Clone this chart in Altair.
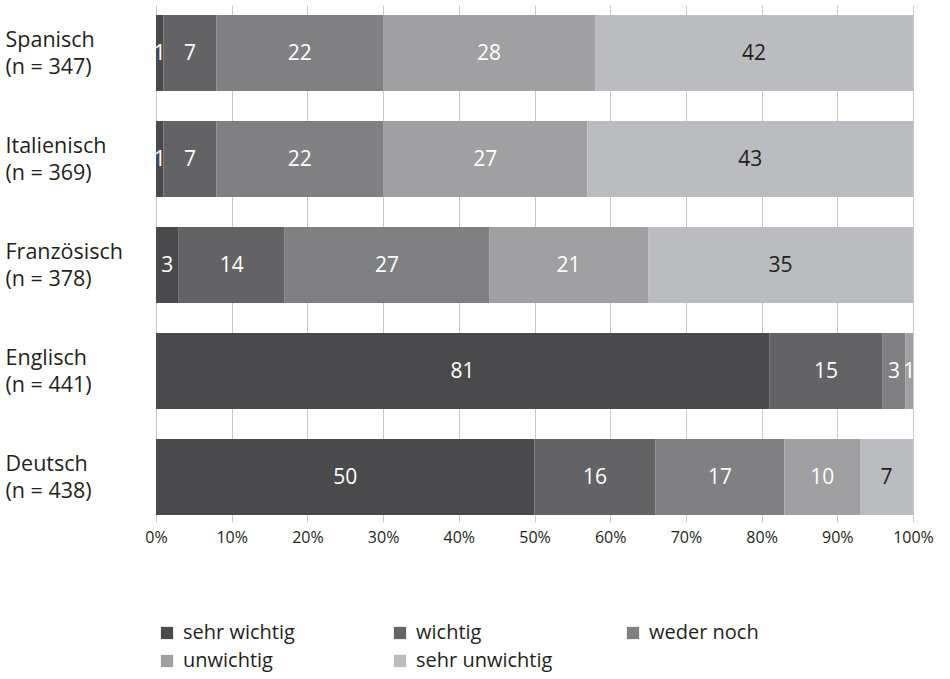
import altair as alt
import pandas as pd

languages = ["Spanisch", "Italienisch", "Französisch", "Englisch", "Deutsch"]
sample_sizes = [347, 369, 378, 441, 438]
categories = ["sehr wichtig", "wichtig", "weder noch", "unwichtig", "sehr unwichtig"]
colors = ["#4a4a4c", "#636366", "#808083", "#a0a0a3", "#bbbcbf"]

sehr_wichtig = [1, 1, 3, 81, 50]
wichtig = [7, 7, 14, 15, 16]
weder_noch = [22, 22, 27, 3, 17]
unwichtig = [28, 27, 21, 1, 10]
sehr_unwichtig = [42, 43, 35, 0, 7]

tick_values = [0, 10, 20, 30, 40, 50, 60, 70, 80, 90, 100]

FONT = "Open Sans"
DARK = "#231f20"

series = [sehr_wichtig, wichtig, weder_noch, unwichtig, sehr_unwichtig]
labels = [f"{l}|(n = {n})" for l, n in zip(languages, sample_sizes)]
rows = []
for li, lab in enumerate(labels):
    for ci, cat in enumerate(categories):
        rows.append({"label": lab, "cat": cat, "rank": ci, "value": series[ci][li]})
df = pd.DataFrame(rows)

base = (
    alt.Chart(df)
    .transform_filter("datum.value > 0")
    .transform_stack(stack="value", groupby=["label"], sort=[alt.SortField("rank")], as_=["x0", "x1"])
    .transform_calculate(mid="(datum.x0 + datum.x1) / 2")
)

y_enc = alt.Y(
    "label:N",
    sort=labels,
    title=None,
    scale=alt.Scale(paddingInner=0.283, paddingOuter=0.047, align=1),
    axis=alt.Axis(
        labelExpr="split(datum.label, '|')",
        labelAlign="left",
        labelBaseline="middle",
        labelPadding=151,
        labelOffset=-12,
        ticks=False,
        tickSize=0,
        domain=False,
        grid=False,
        labelFontSize=21.5,
        labelLineHeight=27,
        labelColor=DARK,
        labelFont=FONT,
        labelLimit=300,
    ),
)

bars = base.mark_bar().encode(
    y=y_enc,
    x=alt.X(
        "x0:Q",
        scale=alt.Scale(domain=[0, 100], nice=False),
        title=None,
        axis=alt.Axis(
            values=tick_values,
            labelExpr="datum.value + '%'",
            labelFlush=False,
            grid=True,
            gridColor="#c8c8c8",
            gridWidth=1,
            tickColor="#c8c8c8",
            tickSize=7,
            domain=False,
            labelFontSize=16,
            labelFont=FONT,
            labelColor=DARK,
            labelPadding=7,
        ),
    ),
    x2="x1:Q",
    color=alt.Color(
        "cat:N",
        scale=alt.Scale(domain=categories, range=colors),
        legend=alt.Legend(
            title=None,
            orient="none",
            legendX=1,
            legendY=618,
            direction="horizontal",
            columns=3,
            gridAlign="all",
            columnPadding=70,
            rowPadding=8,
            symbolType="square",
            symbolSize=150,
            symbolStrokeWidth=0,
            symbolOpacity=1,
            labelFontSize=20,
            labelFont=FONT,
            labelColor=DARK,
            labelOffset=6,
            labelLimit=300,
            padding=0,
        ),
    ),
)

text = base.mark_text(fontSize=21, font=FONT, baseline="middle", dy=1).encode(
    y=alt.Y("label:N", sort=labels),
    x=alt.X("mid:Q"),
    text=alt.Text("value:Q"),
    color=alt.condition("datum.cat == 'sehr unwichtig'", alt.value(DARK), alt.value("white")),
)

chart = (
    alt.layer(bars, text)
    .properties(width=757, height=510, padding={"left": 5, "top": 5, "right": 5, "bottom": 5}, background="white")
    .configure_view(stroke=None)
)

chart.save("out.html", embed_options={"renderer": "svg", "actions": False})
